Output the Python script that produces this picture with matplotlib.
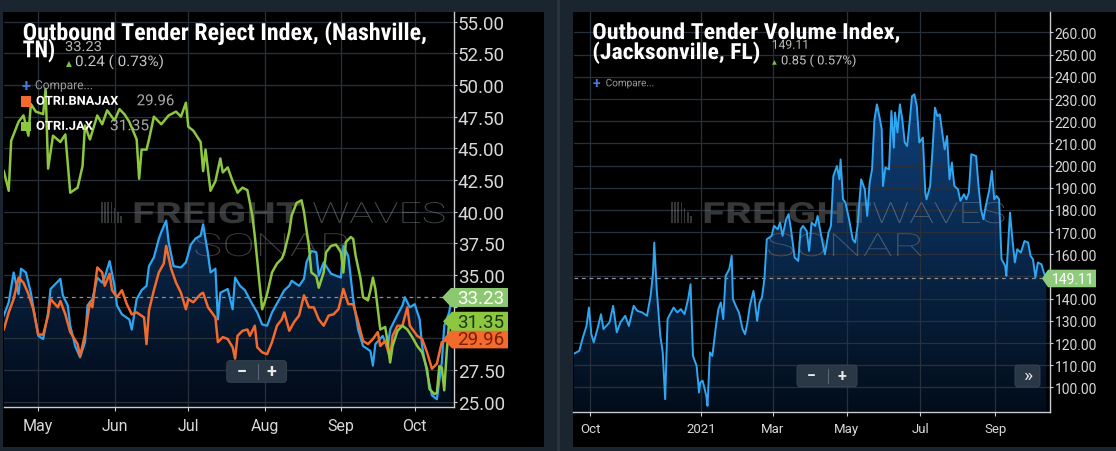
import matplotlib
matplotlib.use("Agg")
import matplotlib.pyplot as plt
import matplotlib.dates as mdates
import matplotlib.patheffects as pe
import matplotlib.transforms as mtransforms
from matplotlib import font_manager as fm
from matplotlib.patches import Rectangle, FancyBboxPatch, Polygon
from matplotlib.ticker import FuncFormatter
import numpy as np
import pandas as pd

W, H = 1116, 452

# ---------------- data ----------------
# left chart, days counted from 2021-04-17
left_start = "2021-04-17"
nash_days = [0, 2, 4, 6, 7, 9, 11, 14, 16, 18, 19, 21, 23, 24, 26, 27, 29, 31, 33, 34,
             36, 38, 40, 41, 43, 45, 46, 48, 51, 52, 54, 56, 58, 59, 61, 63, 64, 66, 67, 69,
             72, 74, 76, 78, 80, 81, 83, 84, 86, 87, 88, 91, 93, 94, 96, 98, 101, 103, 105, 107,
             109, 112, 114, 116, 117, 120, 122, 123, 125, 127, 128, 130, 133, 135, 137, 138, 140, 142, 144, 146,
             149, 150, 151, 154, 156, 157, 159, 162, 163, 165, 167, 169, 170, 172, 174, 176, 178, 179, 181, 182]
nash_vals = [31.8, 32.85, 35.2, 33.5, 35.5, 35.2, 33.6, 30.2, 29.95, 32.05,
             33.9, 34.3, 34.7, 33.4, 32.6, 31.0, 29.4, 28.5, 29.7, 32.6,
             33.1, 34.8, 34.4, 34.8, 36.1, 34.15, 32.6, 31.9, 31.5, 30.7,
             33.1, 33.8, 34.15, 35.7, 36.4, 37.85, 38.4, 39.3, 37.6, 35.7,
             35.6, 36.0, 37.4, 37.9, 38.1, 39.0, 36.65, 35.2, 35.5, 31.5,
             33.6, 33.9, 32.3, 34.8, 34.15, 33.8, 32.7, 32.05, 31.1, 31.0,
             32.05, 33.1, 33.8, 34.15, 34.55, 34.15, 34.7, 36.0, 36.9, 36.8,
             34.95, 36.0, 35.1, 34.95, 34.8, 37.3, 36.5, 33.1, 30.7, 29.4,
             29.0, 27.85, 29.55, 30.2, 29.2, 30.7, 31.5, 32.6, 33.25, 32.45,
             32.7, 31.5, 29.4, 27.3, 25.5, 25.2, 28.1, 31.0, 32.05, 33.23]

bnajax_days = [0, 2, 4, 6, 8, 10, 12, 14, 16, 18, 19, 22, 23, 25, 27, 30, 31, 33, 35, 36,
               38, 40, 41, 43, 44, 46, 48, 50, 52, 54, 57, 58, 59, 61, 63, 65, 66, 68, 70, 72,
               74, 75, 77, 80, 81, 83, 86, 87, 89, 91, 93, 94, 95, 97, 99, 100, 102, 103, 105, 107,
               109, 111, 113, 114, 116, 118, 120, 122, 124, 126, 128, 130, 132, 134, 136, 138, 140, 142, 144, 146,
               148, 150, 152, 153, 155, 157, 158, 160, 162, 164, 165, 168, 170, 172, 174, 176, 178, 181, 182]
bnajax_vals = [30.7, 32.05, 33.1, 34.8, 34.4, 33.5, 32.3, 30.3, 30.3, 31.8,
               33.1, 32.45, 32.95, 31.9, 30.5, 29.55, 28.6, 30.3, 32.85, 32.45,
               35.6, 35.2, 34.15, 35.1, 33.8, 33.25, 33.8, 32.7, 31.9, 32.05,
               31.65, 29.55, 32.2, 33.8, 35.2, 35.9, 37.3, 35.5, 34.4, 33.6,
               32.3, 33.1, 32.85, 33.5, 33.6, 32.45, 31.65, 29.7, 30.1, 29.95,
               29.3, 28.4, 30.2, 30.6, 30.7, 30.2, 31.0, 29.3, 28.9, 28.75,
               29.7, 31.0, 31.5, 32.05, 30.6, 31.3, 31.8, 33.4, 32.45, 32.45,
               31.5, 31.0, 31.8, 31.9, 32.3, 33.9, 32.7, 32.7, 31.3, 29.8,
               29.55, 29.95, 30.5, 29.4, 29.8, 28.4, 30.2, 31.0, 31.0, 32.45,
               31.0, 30.2, 29.95, 28.9, 27.6, 28.0, 29.7, 29.95, 29.96]

jax_days = [0, 2, 3, 6, 8, 10, 11, 13, 16, 17, 18, 20, 23, 25, 27, 30, 32, 33, 35, 38,
            40, 42, 45, 47, 49, 51, 54, 55, 56, 58, 59, 61, 64, 67, 70, 72, 74, 75, 77, 80,
            81, 82, 84, 86, 88, 89, 91, 93, 95, 97, 99, 101, 102, 104, 105, 106, 107, 109, 111, 113,
            114, 116, 117, 119, 121, 122, 123, 124, 125, 127, 128, 130, 131, 133, 135, 137, 138, 139, 141, 142,
            143, 145, 146, 148, 149, 150, 151, 153, 155, 156, 157, 158, 160, 162, 164, 166, 168, 170, 172, 173,
            175, 176, 177, 178, 179, 180, 181, 182]
jax_vals = [43.2, 41.65, 45.6, 47.1, 47.6, 46.0, 48.5, 47.9, 47.7, 49.7,
            43.4, 46.0, 45.5, 46.1, 41.5, 41.9, 43.6, 46.8, 45.7, 47.6,
            46.9, 48.0, 47.2, 48.1, 47.7, 47.1, 45.7, 42.6, 44.9, 44.9,
            45.7, 47.5, 46.9, 47.6, 47.9, 47.5, 48.6, 46.7, 46.4, 45.5,
            43.2, 44.9, 41.65, 42.4, 44.2, 43.1, 43.5, 42.4, 41.5, 41.9,
            41.7, 39.7, 38.1, 34.2, 32.3, 32.85, 33.5, 35.2, 35.9, 36.3,
            36.8, 38.4, 39.7, 40.7, 40.9, 40.0, 38.6, 37.3, 35.2, 34.9,
            34.0, 35.2, 36.8, 37.3, 37.4, 36.8, 35.2, 37.6, 38.0, 37.85,
            36.5, 34.7, 33.25, 33.0, 33.8, 34.8, 33.9, 30.7, 30.9, 29.7,
            28.1, 29.4, 30.6, 31.0, 30.7, 30.1, 29.4, 28.9, 27.6, 26.0,
            25.6, 25.7, 27.8, 27.7, 25.9, 28.9, 31.3, 31.35]

# right chart, days counted from 2020-09-17
right_start = "2020-09-17"
otvi_days = [0, 5, 8, 11, 13, 15, 17, 20, 23, 25, 30, 33, 36, 39, 43, 46, 50, 53, 57, 61,
             64, 66, 67, 69, 72, 74, 76, 78, 80, 83, 86, 89, 92, 95, 97, 99, 102, 104, 105, 107,
             110, 111, 113, 115, 118, 120, 122, 124, 126, 129, 131, 132, 135, 137, 140, 142, 144, 146, 149, 150,
             152, 154, 156, 158, 160, 164, 166, 169, 171, 173, 176, 178, 180, 183, 186, 188, 190, 193, 195, 197,
             200, 202, 205, 208, 211, 213, 215, 218, 220, 221, 223, 225, 228, 231, 233, 235, 238, 241, 243, 245,
             247, 249, 251, 253, 255, 256, 258, 261, 263, 265, 266, 268, 270, 272, 274, 276, 278, 280, 282, 284,
             286, 289, 291, 292, 295, 297, 299, 301, 303, 305, 307, 309, 311, 313, 315, 318, 320, 323, 325, 327,
             329, 333, 335, 337, 339, 341, 344, 346, 348, 350, 352, 354, 357, 358, 361, 363, 365, 367, 370, 373,
             376, 378, 380, 382, 384, 387, 389, 391]
otvi_vals = [115.0, 116.5, 122.5, 127.7, 136.0, 124.0, 120.3, 126.3, 133.0, 126.3,
             129.3, 136.8, 124.8, 129.3, 132.3, 127.7, 136.8, 134.5, 133.8, 132.3,
             141.3, 151.8, 165.3, 144.3, 123.2, 115.8, 94.7, 130.8, 133.0, 136.0,
             133.8, 135.3, 133.0, 139.8, 146.5, 114.2, 109.7, 97.7, 102.3, 103.0,
             96.2, 91.7, 115.8, 114.2, 127.7, 135.3, 138.3, 130.8, 150.3, 153.3,
             159.3, 139.8, 136.0, 133.8, 126.3, 124.0, 129.3, 136.8, 143.5, 139.8,
             130.0, 138.3, 140.5, 148.8, 166.8, 168.3, 172.8, 171.3, 174.3, 168.3,
             175.8, 178.1, 171.3, 158.6, 157.0, 171.3, 172.8, 170.5, 161.5, 174.3,
             172.8, 177.3, 168.3, 160.0, 169.8, 172.8, 195.3, 199.8, 193.8, 202.8,
             184.8, 183.3, 175.8, 166.8, 165.3, 172.8, 193.8, 189.3, 177.3, 192.3,
             198.3, 220.8, 227.6, 222.3, 216.4, 190.8, 199.1, 198.3, 224.6, 208.1,
             223.9, 214.9, 227.6, 220.8, 210.4, 208.8, 219.4, 231.3, 232.1, 226.8,
             210.4, 212.6, 187.8, 184.8, 190.8, 207.3, 226.1, 222.3, 223.1, 214.9,
             207.3, 213.3, 193.8, 201.4, 190.8, 189.3, 184.1, 187.1, 184.8, 187.8,
             205.1, 204.3, 190.8, 180.3, 175.8, 181.8, 189.3, 197.6, 184.8, 186.3,
             184.8, 157.8, 154.8, 150.3, 178.8, 166.8, 156.3, 162.3, 160.8, 166.0,
             165.3, 159.3, 157.8, 149.5, 156.3, 155.5, 151.8, 149.11]

left_yticks = np.arange(25, 55.01, 2.5)
right_yticks = np.arange(100, 260.01, 10)
right_tick_dates = ["2020-10-01", "2021-01-01", "2021-03-01", "2021-05-01", "2021-07-01", "2021-09-01"]
right_tick_labels = ["Oct", "2021", "Mar", "May", "Jul", "Sep"]

BLUE = "#2ea6f2"
ORANGE = "#f26a2c"
GREEN = "#8dc63f"

# ---------------- fonts ----------------
installed = {f.name for f in fm.fontManager.ttflist}


def pick(*names):
    for n in names:
        if n in installed:
            return n
    return "DejaVu Sans"


UI = pick("Roboto", "Noto Sans", "Open Sans")
TITLE = pick("Roboto Condensed", "Roboto", "Noto Sans")
plt.rcParams["font.family"] = [UI, "DejaVu Sans"]


class Stretch(pe.AbstractPathEffect):
    # squeeze / widen a text horizontally around its own origin
    def __init__(self, sx):
        super().__init__()
        self.sx = sx

    def draw_path(self, renderer, gc, tpath, affine, rgbFace=None):
        renderer.draw_path(gc, tpath, mtransforms.Affine2D().scale(self.sx, 1) + affine, rgbFace)


fig = plt.figure(figsize=(W / 100, H / 100), dpi=100, facecolor="#1b2530")


def px_axes(x0, y0, x1, y1, **kw):
    return fig.add_axes([x0 / W, 1 - y1 / H, (x1 - x0) / W, (y1 - y0) / H], **kw)


bg = px_axes(0, 0, W, H, zorder=-2, label="bg")
bg.set_xlim(0, W)
bg.set_ylim(H, 0)
bg.axis("off")

ov = px_axes(0, 0, W, H, zorder=5, label="ov")
ov.set_xlim(0, W)
ov.set_ylim(H, 0)
ov.axis("off")

renderer = fig.canvas.get_renderer()
PX = ov.transData  # figure pixel coordinates, origin top-left


def fitted(ax, x, y, s, width, **kw):
    t = ax.text(x, y, s, ha="left", transform=PX, **kw)
    w = t.get_window_extent(renderer).width
    t.set_path_effects([Stretch(width / w)])
    return t


# panels
bg.add_patch(Rectangle((3, 13), 541, 434.5, facecolor="#000000", edgecolor="none"))
bg.add_patch(Rectangle((573, 13), 543, 434.5, facecolor="#000000", edgecolor="none"))
bg.add_patch(Rectangle((557, 0), 3, H, facecolor="#2a3441", edgecolor="none"))

# ---------------- chart axes ----------------
axL = px_axes(4, 13.3, 453.6, 408.3, zorder=1, label="left")
axR = px_axes(573.5, 13.3, 1050.4, 412.7, zorder=1, label="right")


def watermark(ax, ix, fx, wx, sx):
    for k, hgt in enumerate([21, 21, 21, 21, 15, 11, 7]):
        ax.add_patch(Rectangle((ix + k * 3.2, 224 - hgt), 1.6, hgt, facecolor="#777777", alpha=0.45,
                               edgecolor="none", transform=PX, zorder=1))
    fitted(ax, fx, 224, "FREIGHT", 170, fontsize=21, fontweight="bold", color="#6f6f6f", alpha=0.5,
           va="baseline", zorder=1)
    fitted(ax, wx, 224, "WAVES", 134, fontsize=21, fontweight="light", color="#999999", alpha=0.5,
           va="baseline", zorder=1)
    fitted(ax, sx, 257, "SONAR", 159, fontsize=23, fontweight="light", color="#999999", alpha=0.42,
           va="baseline", zorder=1)


def style(ax, ysize, xsize):
    ax.set_facecolor("none")
    ax.spines["left"].set_visible(False)
    ax.spines["top"].set_visible(False)
    for s in ("right", "bottom"):
        ax.spines[s].set_color("#c9ccd0")
        ax.spines[s].set_linewidth(1.0)
    ax.yaxis.tick_right()
    ax.grid(True, color="#27303b", linewidth=0.9)
    ax.set_axisbelow(True)
    ax.tick_params(axis="y", color="#c9ccd0", labelcolor="#d8d8d8", labelsize=ysize,
                   length=2.5, width=0.8, pad=0.5)
    ax.tick_params(axis="x", color="#c9ccd0", labelcolor="#d8d8d8", labelsize=xsize,
                   length=3, width=0.8, pad=4.5)


def gradient_fill(ax, x, y, top, bottom):
    x0, x1 = ax.get_xlim()
    y0, y1 = ax.get_ylim()
    g = np.linspace(0, 1, 256)[:, None, None]
    rgba = np.array(bottom)[None, None, :] + (np.array(top) - np.array(bottom))[None, None, :] * g
    poly = ax.fill_between(x, y, y0, facecolor="none", edgecolor="none")
    im = ax.imshow(rgba, extent=(x0, x1, y0, y1), origin="lower", aspect="auto", zorder=0.3)
    im.set_clip_path(poly.get_paths()[0], ax.transData)
    ax.set_xlim(x0, x1)
    ax.set_ylim(y0, y1)


def to_dates(start, days):
    return pd.Timestamp(start) + pd.to_timedelta(days, unit="D")


# left
ls = pd.Timestamp(left_start)
nash_x = to_dates(left_start, nash_days)
axL.plot(nash_x, nash_vals, color=BLUE, lw=1.6, zorder=2)
axL.plot(to_dates(left_start, bnajax_days), bnajax_vals, color=ORANGE, lw=1.8, zorder=3)
axL.plot(to_dates(left_start, jax_days), jax_vals, color=GREEN, lw=1.8, zorder=4)
axL.set_xlim(ls + pd.Timedelta(hours=2), ls + pd.Timedelta(days=182.8))
axL.set_ylim(24.56, 55.74)
axL.set_yticks(left_yticks)
axL.xaxis.set_major_locator(mdates.MonthLocator(bymonth=range(5, 11)))
axL.xaxis.set_major_formatter(mdates.DateFormatter("%b"))
style(axL, 13.5, 11.5)
gradient_fill(axL, nash_x, nash_vals, (0.07, 0.30, 0.56, 1), (0.01, 0.04, 0.09, 1))
axL.axhline(nash_vals[-1], color="#8c9198", lw=0.9, ls=(0, (3, 3)), zorder=1.5)
watermark(axL, 101, 132, 312, 193)

# right
rs = pd.Timestamp(right_start)
otvi_x = to_dates(right_start, otvi_days)
axR.plot(otvi_x, otvi_vals, color=BLUE, lw=1.4, zorder=2)
axR.set_xlim(rs + pd.Timedelta(hours=6), rs + pd.Timedelta(days=394.4))
axR.set_ylim(89.05, 269.1)
axR.set_yticks(right_yticks)
axR.set_xticks(pd.to_datetime(right_tick_dates))
axR.set_xticklabels(right_tick_labels)
style(axR, 10, 9.5)
gradient_fill(axR, otvi_x, otvi_vals, (0.07, 0.31, 0.59, 1), (0.01, 0.05, 0.10, 1))
axR.axhline(otvi_vals[-1], color="#8c9198", lw=0.9, ls=(0, (3, 3)), zorder=1.5)
watermark(axR, 671, 702, 872, 766)

# last value tags; a tag covers the tick label behind it
covered = {axL: [], axR: []}


def tag(ax, value, tip, x0, x1, h, face, fg, size):
    xr = ax.get_xlim()[1]
    yp = H - ax.transData.transform((xr, value))[1]
    ov.add_patch(Polygon([(tip, yp), (x0, yp - h / 2), (x1, yp - h / 2), (x1, yp + h / 2), (x0, yp + h / 2)],
                         closed=True, facecolor=face, edgecolor="none"))
    ov.text((x0 + x1) / 2 + 1, yp + 0.5, f"{value:.2f}", color=fg, fontsize=size, ha="center", va="center")
    for tick in ax.get_yticks():
        ty = H - ax.transData.transform((xr, tick))[1]
        if abs(ty - yp) < h * 0.85:
            covered[ax].append(tick)


tag(axL, bnajax_vals[-1], 443, 452, 508, 19, ORANGE, "#7a1f05", 13.5)
tag(axL, jax_vals[-1], 443, 452, 508, 19, GREEN, "#1b3510", 13.5)
tag(axL, nash_vals[-1], 442, 451, 508, 19, "#8cc870", "#ffffff", 13.5)
tag(axR, otvi_vals[-1], 1042, 1048, 1096, 17.6, "#8fcb7c", "#ffffff", 10)

for ax in (axL, axR):
    hide = covered[ax]
    ax.yaxis.set_major_formatter(FuncFormatter(
        lambda v, p, hide=hide: "" if any(abs(v - c) < 1e-6 for c in hide) else f"{v:.2f}"))

# ---------------- header texts ----------------
fitted(ov, 22.7, 41, "Outbound Tender Reject Index, (Nashville,", 405, fontsize=17,
       fontweight="bold", color="white", family=TITLE, va="baseline")
fitted(ov, 22.7, 58.3, "TN)", 32.5, fontsize=17, fontweight="bold", color="white", family=TITLE,
       va="baseline")
fitted(ov, 65, 48, f"{nash_vals[-1]:.2f}", 36.7, fontsize=10, color="#b8b8b8", va="center")
ov.text(69.2, 63.5, "▲", fontsize=5.5, color="#7dc242", ha="center", va="center", family=["DejaVu Sans"])
fitted(ov, 75, 62.8, "0.24 ( 0.73%)", 89, fontsize=10.5, color="#c4c4c4", va="center")
ov.text(25.5, 86.3, "+", fontsize=11.5, color="#3d7fe0", ha="center", va="center", fontweight="bold")
fitted(ov, 35, 86.7, "Compare...", 58, fontsize=9, color="#9a9a9a", va="center")
ov.add_patch(Rectangle((20.7, 96.7), 10, 11, facecolor=ORANGE, edgecolor="none"))
fitted(ov, 36, 102.3, "OTRI.BNAJAX", 82, fontsize=9, fontweight="bold", color="white", va="center")
fitted(ov, 136.7, 102.3, f"{bnajax_vals[-1]:.2f}", 38, fontsize=11, color="#a8a8a8", va="center")
ov.add_patch(Rectangle((20.7, 122.7), 10, 9.5, facecolor=GREEN, edgecolor="none"))
fitted(ov, 36, 127.3, "OTRI.JAX", 56.7, fontsize=9, fontweight="bold", color="white", va="center")
fitted(ov, 110, 127.3, f"{jax_vals[-1]:.2f}", 39, fontsize=11, color="#a8a8a8", va="center")

fitted(ov, 592.3, 40, "Outbound Tender Volume Index,", 308, fontsize=16,
       fontweight="bold", color="white", family=TITLE, va="baseline")
fitted(ov, 592.3, 60, "(Jacksonville, FL)", 168, fontsize=16, fontweight="bold", color="white",
       family=TITLE, va="baseline")
fitted(ov, 771.7, 46.3, f"{otvi_vals[-1]:.2f}", 37.3, fontsize=9, color="#b8b8b8", va="center")
ov.text(774.3, 62.5, "▲", fontsize=4.5, color="#7dc242", ha="center", va="center", family=["DejaVu Sans"])
fitted(ov, 781, 61.7, "0.85 ( 0.57%)", 75.7, fontsize=9, color="#c4c4c4", va="center")
ov.text(596, 83.8, "+", fontsize=10, color="#3d7fe0", ha="center", va="center", fontweight="bold")
fitted(ov, 605.7, 84.3, "Compare...", 48.6, fontsize=7.5, color="#9a9a9a", va="center")


# zoom buttons
def button(x0, y0, w, h):
    ov.add_patch(FancyBboxPatch((x0, y0), w, h, boxstyle="round,pad=0,rounding_size=3",
                                facecolor="#2a3745", edgecolor="#3a4857", lw=0.6))


button(226.8, 361.7, 59.6, 21.6)
ov.plot([257.5, 257.5], [365, 380], color="#566473", lw=0.8)
ov.text(241.8, 372.5, "−", fontsize=13, color="#e8e8e8", ha="center", va="center", fontweight="bold")
ov.text(271.8, 372.5, "+", fontsize=13, color="#e8e8e8", ha="center", va="center", fontweight="bold")

button(797, 366, 60, 21.7)
ov.plot([827.7, 827.7], [369.5, 384], color="#566473", lw=0.8)
ov.text(811.8, 377, "−", fontsize=11.5, color="#e8e8e8", ha="center", va="center", fontweight="bold")
ov.text(841.9, 377, "+", fontsize=11.5, color="#e8e8e8", ha="center", va="center", fontweight="bold")
button(1015, 366, 25, 22)
ov.text(1027.5, 376.5, "»", fontsize=14, color="#e8e8e8", ha="center", va="center")

fig.savefig("out.png", dpi=100, facecolor=fig.get_facecolor())
